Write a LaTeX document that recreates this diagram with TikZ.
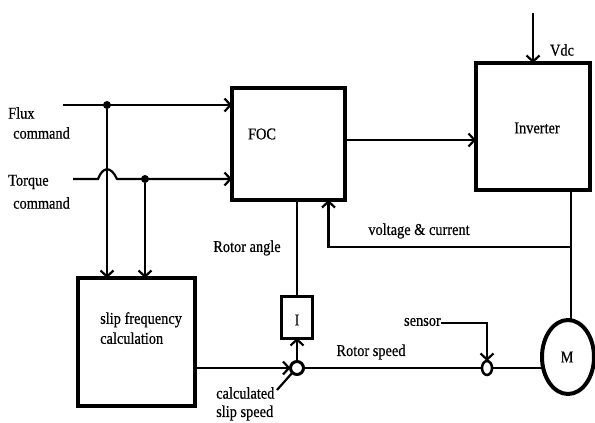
\documentclass[tikz,border=0pt]{standalone}
\usepackage{fontspec}
\setmainfont{Liberation Serif}
\newfontfamily\lblfont[FakeStretch=0.87,FakeBold=0.5]{Liberation Serif}
\usetikzlibrary{arrows.meta,shapes.geometric}
\begin{document}
\begin{tikzpicture}[x=1pt,y=-1pt,
  blk/.style={draw, line width=4pt, inner sep=0pt, outer sep=0pt},
  wire/.style={line width=2.2pt},
  arr/.style={wire, -{Straight Barb[length=6pt,width=13pt,line width=2.2pt]}},
  lbl/.style={font=\lblfont\fontsize{16.5}{20}\selectfont, inner sep=0pt},
  dot/.style={circle, fill, inner sep=0pt, minimum size=8pt}]
\useasboundingbox (0,0) rectangle (595,423);
\fill[white] (0,0) rectangle (595,423);

% blocks
\node[blk, minimum width=113pt, minimum height=112pt] (foc) at (288.5,144) {};
\node[blk, minimum width=114pt, minimum height=127pt] (inv) at (533,126.5) {};
\node[blk, minimum width=117pt, minimum height=128pt] (slip) at (136.5,342) {};
\node[blk, line width=3pt, minimum width=31pt, minimum height=42pt] (ibox) at (297,317) {};
\node[draw, circle, line width=3pt, minimum size=13pt, inner sep=0pt, outer sep=0pt] (j1) at (297,368) {};
\node[draw, ellipse, line width=2.5pt, minimum width=10pt, minimum height=14pt, inner sep=0pt, outer sep=0pt] (j2) at (487,368) {};
\node[draw, ellipse, line width=4pt, minimum width=52pt, minimum height=74pt, inner sep=0pt, outer sep=0pt] (motor) at (568,357) {};

% texts
\node[lbl] (tfoc) at (262,134) {FOC};
\node[lbl] (tinv) at (537,128) {Inverter};
\node[lbl] (tI) at (297,320) {I};
\node[lbl] (tM) at (567,357) {M};
\node[lbl, align=left, anchor=north west] (tslip) at (100,312) {slip frequency\\calculation};
\node[lbl, anchor=west] (tflux1) at (8,113) {Flux};
\node[lbl, anchor=west] (tflux2) at (13,133) {command};
\node[lbl, anchor=west] (ttq1) at (8,182) {Torque};
\node[lbl, anchor=west] (ttq2) at (13,203) {command};
\node[lbl] (tvdc) at (562,50) {Vdc};
\node[lbl] (tvc) at (419,231) {voltage \& current};
\node[lbl] (tra) at (247,248) {Rotor angle};
\node[lbl] (trs) at (371,352) {Rotor speed};
\node[lbl, anchor=east] (tsens) at (441,322) {sensor};
\node[lbl, anchor=west] (tcs1) at (216,393) {calculated};
\node[lbl, anchor=west] (tcs2) at (216,413) {slip speed};

% flux command
\coordinate (fluxin) at (63,105);
\node[dot] (fluxdot) at (107,105) {};
\draw[arr] (fluxin) -- (fluxin -| foc.west);
\draw[arr] (fluxdot) -- (fluxdot |- slip.north);

% torque command with hop-over
\coordinate (tqin) at (73,179);
\node[dot] (tqdot) at (145,179) {};
\draw[arr] (tqin) -- (98,179) .. controls (103,166) and (111,166) .. (117,179) -- (tqin -| foc.west);
\draw[arr] (tqdot) -- (tqdot |- slip.north);

% FOC to inverter
\draw[arr] (foc.east |- 0,140) -- (inv.west |- 0,140);

% Vdc
\coordinate (vdcin) at (533,13);
\draw[arr] (vdcin) -- (inv.north);

% inverter to motor and feedback
\draw[wire] (inv.south -| 571,0) -- (571,322);
\coordinate (fb) at (571,247);
\draw[arr] (fb) -| ([xshift=40pt]foc.south);

% rotor angle
\draw[wire] (foc.south -| ibox.north) -- (ibox.north);
\draw[arr] (j1) -- (ibox.south);

% slip to junction
\draw[arr] (slip.east |- j1) -- (j1.west);
\coordinate (lead) at (277,390);
\draw[wire] (lead) -- (j1.225);

% rotor speed
\draw[wire] (j1.east) -- (j2.west);
\draw[wire] (j2.east) -- (motor.west |- j2);
\coordinate (sens) at (441,323);
\draw[arr] (sens) -| (j2.north);
\end{tikzpicture}
\end{document}
